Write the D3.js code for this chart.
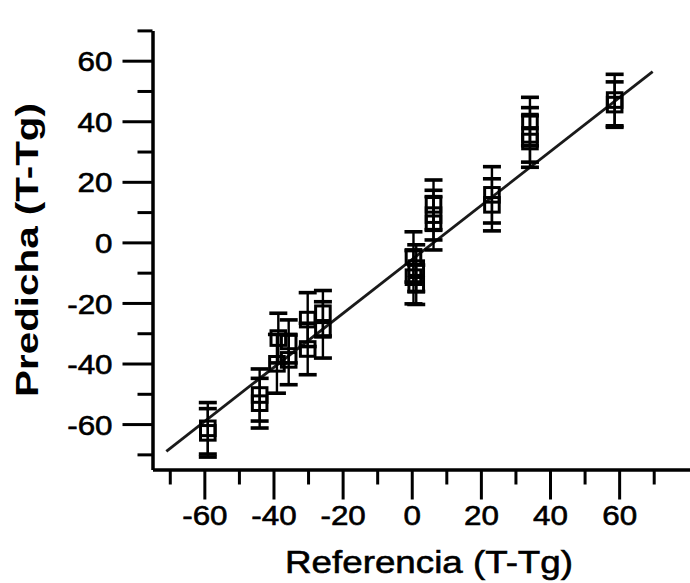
<!DOCTYPE html>
<html><head><meta charset="utf-8">
<script src="https://cdn.jsdelivr.net/npm/d3@7"></script>
<style>body{margin:0;background:#fff}svg{display:block}</style>
</head><body>
<svg id="chart" width="690" height="583"></svg>
<script>
const refX    = [-59.0, -59.0, -44.0, -44.0, -38.6, -39.0, -35.6, -35.6, -30.1, -30.1, -25.7, -25.7, 0.5, 1.3, 0.5, 1.3, 6.3, 6.3, 6.3, 23.2, 23.2, 34.2, 34.2, 34.2, 58.7, 58.7];
const predY   = [-61.4, -62.9, -50.4, -53.1, -31.6, -40.1, -32.7, -38.8, -25.5, -35.2, -23.4, -28.9, -4.8, -8.5, -11.5, -14.0, 12.4, 9.0, 6.3, 15.7, 12.4, 39.9, 35.5, 33.3, 47.0, 45.5];
const predErr = [8.5, 8.0, 8.6, 8.2, 8.2, 9.7, 7.1, 8.2, 8.9, 8.5, 7.5, 9.3, 8.3, 7.7, 8.8, 6.5, 8.2, 8.2, 8.8, 9.3, 8.6, 8.0, 9.0, 8.5, 8.5, 7.5];
const fitX = [-71, 69.7];
const fitY = [-69, 56.4];
const xMajorTicks = [-60, -40, -20, 0, 20, 40, 60];
const xMinorTicks = [-70, -50, -30, -10, 10, 30, 50, 70];
const yMajorTicks = [-60, -40, -20, 0, 20, 40, 60];
const yMinorTicks = [-70, -50, -30, -10, 10, 30, 50, 70];
const xTitle = "Referencia (T-Tg)";
const yTitle = "Predicha (T-Tg)";

const FONT = "'Liberation Sans', Arial, Helvetica, sans-serif";
const svg = d3.select("#chart");
const x = d3.scaleLinear().domain([-75, 80.5]).range([152.5, 690]);
const y = d3.scaleLinear().domain([-75, 70]).range([469.5, 30.4]);

function styleAxis(g, stroke) {
  g.selectAll("path.domain").attr("stroke", "#000").attr("stroke-width", stroke);
  g.selectAll(".tick line").attr("stroke", "#000").attr("stroke-width", 3);
}
function stretchText(sel, factor) {
  sel.each(function() {
    const w = this.getComputedTextLength();
    d3.select(this).attr("textLength", w * factor).attr("lengthAdjust", "spacingAndGlyphs");
  });
}

// X axis
const gxMinor = svg.append("g").attr("transform", `translate(0,${y(-75)})`)
  .call(d3.axisBottom(x).tickValues(xMinorTicks).tickSize(15).tickSizeOuter(0).tickFormat(""));
styleAxis(gxMinor, 3);
const gx = svg.append("g").attr("transform", `translate(0,${y(-75)})`)
  .call(d3.axisBottom(x).tickValues(xMajorTicks).tickSize(30).tickSizeOuter(0).tickPadding(6).tickFormat(d => String(d)));
styleAxis(gx, 3);
gx.selectAll("text").attr("font-family", FONT).attr("font-size", 28).attr("fill", "#000")
  .attr("stroke", "#000").attr("stroke-width", 0.6);
stretchText(gx.selectAll("text"), 1.12);

// Y axis
const gyMinor = svg.append("g").attr("transform", `translate(${x(-75)},0)`)
  .call(d3.axisLeft(y).tickValues(yMinorTicks).tickSize(15).tickSizeOuter(0).tickFormat(""));
styleAxis(gyMinor, 3);
const gy = svg.append("g").attr("transform", `translate(${x(-75)},0)`)
  .call(d3.axisLeft(y).tickValues(yMajorTicks).tickSize(30).tickSizeOuter(0).tickPadding(10).tickFormat(d => String(d)));
styleAxis(gy, 3);
gy.selectAll("text").attr("font-family", FONT).attr("font-size", 28).attr("fill", "#000").attr("dy", "0.36em")
  .attr("stroke", "#000").attr("stroke-width", 0.6);
stretchText(gy.selectAll("text"), 1.12);

// Fit line
svg.append("line")
  .attr("x1", x(fitX[0])).attr("y1", y(fitY[0]))
  .attr("x2", x(fitX[1])).attr("y2", y(fitY[1]))
  .attr("stroke", "#1a1a1a").attr("stroke-width", 2.8);

// Points with error bars
const pts = refX.map((rx, i) => ({x: rx, y: predY[i], e: predErr[i]}));
const pg = svg.append("g");
const capW = 9;
pts.forEach(p => {
  const cx = x(p.x), yt = y(p.y + p.e), yb = y(p.y - p.e);
  pg.append("line").attr("x1", cx).attr("x2", cx).attr("y1", yt).attr("y2", yb)
    .attr("stroke", "#000").attr("stroke-width", 2.4);
  [yt, yb].forEach(yy => pg.append("line").attr("x1", cx - capW).attr("x2", cx + capW)
    .attr("y1", yy).attr("y2", yy).attr("stroke", "#000").attr("stroke-width", 3.6));
});
pts.forEach(p => {
  pg.append("rect").attr("x", x(p.x) - 7.3).attr("y", y(p.y) - 7.3)
    .attr("width", 14.6).attr("height", 14.6)
    .attr("fill", "none").attr("stroke", "#000").attr("stroke-width", 3);
});

// Titles
const xt = svg.append("text").attr("x", 429).attr("y", 573)
  .attr("text-anchor", "middle").attr("font-family", FONT).attr("font-size", 32).attr("fill", "#000")
  .attr("stroke", "#000").attr("stroke-width", 0.6)
  .text(xTitle);
xt.attr("textLength", 288).attr("lengthAdjust", "spacingAndGlyphs");
const yt = svg.append("text").attr("transform", "translate(38,250) rotate(-90)")
  .attr("text-anchor", "middle").attr("font-family", FONT).attr("font-size", 32).attr("font-weight", "bold").attr("fill", "#000")
  .text(yTitle);
yt.attr("textLength", 294).attr("lengthAdjust", "spacingAndGlyphs");
</script>
</body></html>
